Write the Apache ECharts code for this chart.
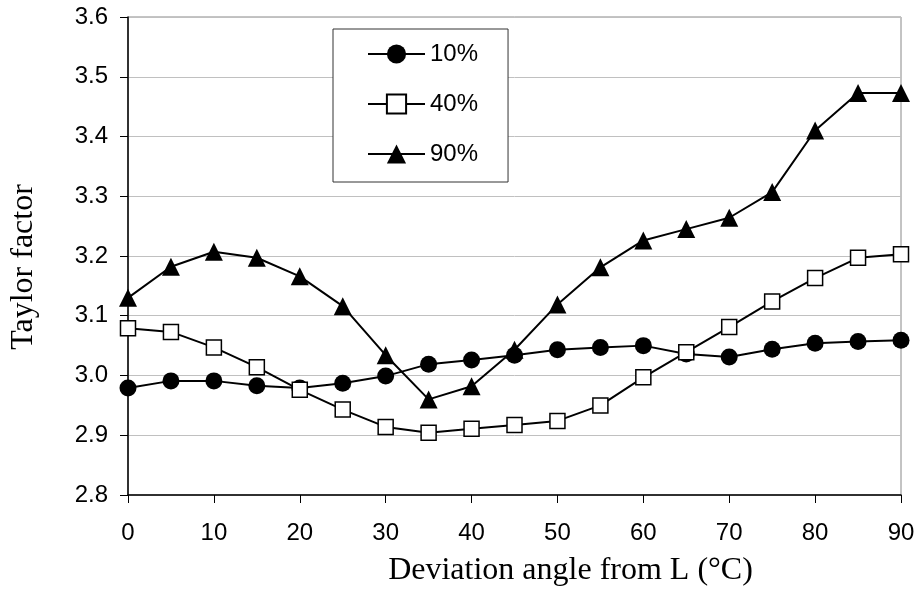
<!DOCTYPE html>
<html>
<head>
<meta charset="utf-8">
<script src="https://cdn.jsdelivr.net/npm/echarts@6/dist/echarts.min.js"></script>
<style>
html, body { margin: 0; padding: 0; background: #ffffff; }
#chart { width: 918px; height: 598px; }
</style>
</head>
<body>
<div id="chart"></div>
<script>
// deviation angle (x) and Taylor factor
const angles = [0, 5, 10, 15, 20, 25, 30, 35, 40, 45, 50, 55, 60, 65, 70, 75, 80, 85, 90]
const s10 = [2.979, 2.991, 2.991, 2.983, 2.979, 2.987, 2.999, 3.019, 3.026, 3.034, 3.043, 3.047, 3.050, 3.036, 3.031, 3.044, 3.054, 3.057, 3.059]
const s40 = [3.079, 3.073, 3.047, 3.014, 2.976, 2.943, 2.914, 2.904, 2.911, 2.917, 2.924, 2.950, 2.997, 3.039, 3.081, 3.124, 3.163, 3.197, 3.203]
const s90 = [3.130, 3.182, 3.207, 3.197, 3.166, 3.116, 3.034, 2.960, 2.982, 3.043, 3.119, 3.181, 3.226, 3.245, 3.264, 3.307, 3.410, 3.473, 3.473]
const seriesNames = ['10%', '40%', '90%']

const sans = 'Arial, "Liberation Sans", sans-serif'
const serif = '"Times New Roman", "Liberation Serif", serif'

function pairs (ys) {
  return angles.map((a, i) => [a, ys[i]])
}

const chart = echarts.init(document.getElementById('chart'))

let makeSeries = function (name, ys, symbol, size, fill) {
  return {
    name: name,
    type: 'line',
    data: pairs(ys),
    symbol: symbol,
    symbolSize: size,
    showAllSymbol: true,
    lineStyle: { color: '#000', width: 2 },
    itemStyle: { color: fill, borderColor: '#000', borderWidth: fill === '#fff' ? 1.5 : 0 },
    emphasis: { disabled: true },
    animation: false
  }
}

const option = {
  animation: false,
  grid: {
    left: 127, top: 17, right: 17, bottom: 103,
    show: true,
    borderColor: '#888',
    borderWidth: 1
  },
  legend: {
    orient: 'vertical',
    left: 333,
    top: 29,
    padding: [13, 30, 16, 34],
    itemWidth: 57,
    itemHeight: 24,
    itemGap: 26,
    borderColor: '#333',
    borderWidth: 1,
    backgroundColor: '#fff',
    textStyle: { fontFamily: sans, fontSize: 24, color: '#000' },
    data: seriesNames
  },
  xAxis: {
    type: 'value',
    min: 0,
    max: 90,
    interval: 10,
    name: 'Deviation angle from L (°C)',
    nameLocation: 'middle',
    nameGap: 60,
    nameTextStyle: { fontFamily: serif, fontSize: 32, color: '#000', padding: [0, 0, 0, 112] },
    axisLine: { lineStyle: { color: '#000', width: 1.5 } },
    axisTick: { show: true, length: 8, lineStyle: { color: '#000' } },
    axisLabel: { fontFamily: sans, fontSize: 24, color: '#000', margin: 26 },
    splitLine: { show: false }
  },
  yAxis: {
    type: 'value',
    min: 2.8,
    max: 3.6,
    interval: 0.1,
    name: 'Taylor factor',
    nameLocation: 'middle',
    nameGap: 88,
    nameTextStyle: { fontFamily: serif, fontSize: 32, color: '#000', padding: [0, 22, 0, 0] },
    axisLine: { show: true, lineStyle: { color: '#000', width: 1.5 } },
    axisTick: { show: true, length: 8, lineStyle: { color: '#000' } },
    axisLabel: {
      fontFamily: sans, fontSize: 24, color: '#000', margin: 20,
      formatter: v => v.toFixed(1)
    },
    splitLine: { show: true, lineStyle: { color: '#c0c0c0', width: 1 } }
  },
  series: [
    makeSeries(seriesNames[0], s10, 'circle', 17, '#000'),
    makeSeries(seriesNames[1], s40, 'rect', 15, '#fff'),
    makeSeries(seriesNames[2], s90, 'triangle', 18, '#000')
  ]
}

chart.setOption(option)
</script>
</body>
</html>
